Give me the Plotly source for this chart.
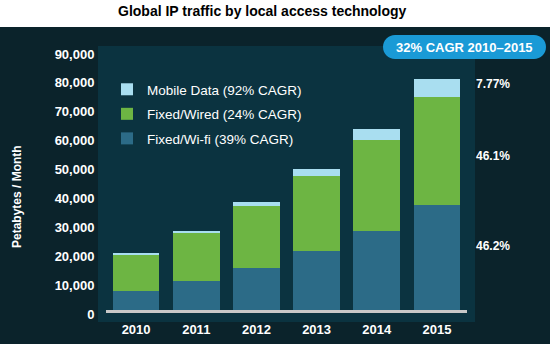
import plotly.graph_objects as go

years = ["2010", "2011", "2012", "2013", "2014", "2015"]
wifi = [6500, 10200, 14450, 20300, 27350, 36450]
wired = [12850, 16700, 21400, 26250, 31550, 37400]
mobile = [280, 590, 1380, 2250, 3800, 6100]
names = ["Fixed/Wi-fi (39% CAGR)", "Fixed/Wired (24% CAGR)", "Mobile Data (92% CAGR)"]
share_labels = ["7.77%", "46.1%", "46.2%"]
yticks = list(range(0, 90001, 10000))

W, H = 550, 344
L, R, T, B = 106, 467, 50, 310

def px(p):
    return (p - L) / (R - L)

def py(p):
    return (B - p) / (B - T)

fig = go.Figure()
colors = ["#2c6b87", "#6db543", "#a9def0"]
ranks = [3, 2, 1]
for vals, nm, col, rk in zip([wifi, wired, mobile], names, colors, ranks):
    fig.add_trace(go.Bar(x=years, y=vals, name=nm, marker_color=col,
                         marker_line_width=0, legendgroup=nm, legendrank=rk))

shapes = []
shapes.append(dict(type="rect", xref="paper", yref="paper", x0=px(0), x1=px(W),
                   y0=py(27), y1=py(-5), fillcolor="white", line_width=0, layer="below"))
shapes.append(dict(type="rect", xref="paper", yref="paper", x0=px(98), x1=px(475),
                   y0=py(322), y1=py(46), fillcolor="#0b3340", line_width=0, layer="below"))
x0, x1, y0, y1, r = 383, 546, 35, 59, 12
k = 0.5523 * r
pts = [
    f"M{px(x0 + r)},{py(y0)}",
    f"L{px(x1 - r)},{py(y0)}",
    f"C{px(x1 - r + k)},{py(y0)} {px(x1)},{py(y0 + r - k)} {px(x1)},{py(y0 + r)}",
    f"C{px(x1)},{py(y1 - r + k)} {px(x1 - r + k)},{py(y1)} {px(x1 - r)},{py(y1)}",
    f"L{px(x0 + r)},{py(y1)}",
    f"C{px(x0 + r - k)},{py(y1)} {px(x0)},{py(y1 - r + k)} {px(x0)},{py(y1 - r)}",
    f"C{px(x0)},{py(y0 + r - k)} {px(x0 + r - k)},{py(y0)} {px(x0 + r)},{py(y0)}",
    "Z",
]
shapes.append(dict(type="path", xref="paper", yref="paper", path=" ".join(pts),
                   fillcolor="#1a9ad6", line_width=0, layer="above"))

annotations = [
    dict(text="<b>Global IP traffic by local access technology</b>", x=px(262), y=py(11),
         xref="paper", yref="paper", showarrow=False, xanchor="center", yanchor="middle",
         font=dict(size=14, color="black", family="Liberation Sans, Arial")),
    dict(text="<b>32% CAGR 2010–2015</b>", x=px(464), y=py(47),
         xref="paper", yref="paper", showarrow=False, xanchor="center", yanchor="middle",
         font=dict(size=13, color="white", family="Liberation Sans, Arial")),
    dict(text="<b>Petabytes / Month</b>", x=px(17), y=py(197), textangle=-90,
         xref="paper", yref="paper", showarrow=False, xanchor="center", yanchor="middle",
         font=dict(size=12, color="white", family="Liberation Sans, Arial")),
]
for lab, yy in zip(share_labels, [84, 156, 246]):
    annotations.append(dict(text=f"<b>{lab}</b>", x=px(474), y=py(yy), xref="paper", yref="paper",
                            showarrow=False, xanchor="left", yanchor="middle",
                            font=dict(size=12, color="white", family="Liberation Sans, Arial")))

fig.update_layout(
    width=W, height=H,
    margin=dict(l=L, r=W - R, t=T, b=H - B),
    barmode="stack", bargap=0.222,
    paper_bgcolor="#0b232b", plot_bgcolor="#02090c",
    font=dict(family="Liberation Sans, Arial", color="white"),
    showlegend=True,
    legend=dict(x=px(107), y=py(74), xanchor="left", yanchor="top",
                traceorder="grouped", tracegroupgap=4,
                bgcolor="rgba(0,0,0,0)", font=dict(size=13.5, color="white")),
    xaxis=dict(type="category", showgrid=False, showline=True, linecolor="#c8c8c8",
               linewidth=3, ticks="outside", ticklen=5, tickcolor="rgba(0,0,0,0)",
               automargin=False,
               tickfont=dict(size=13, color="white", family="Liberation Sans, Arial", weight="bold")),
    yaxis=dict(range=[0, 90000], tickvals=yticks, tickformat=",", showgrid=False,
               zeroline=False, ticks="outside", ticklen=8, tickcolor="rgba(0,0,0,0)",
               automargin=False, ticklabelshift=4,
               tickfont=dict(size=13, color="white", family="Liberation Sans, Arial", weight="bold")),
    shapes=shapes, annotations=annotations,
)

fig.write_html("out.html")
